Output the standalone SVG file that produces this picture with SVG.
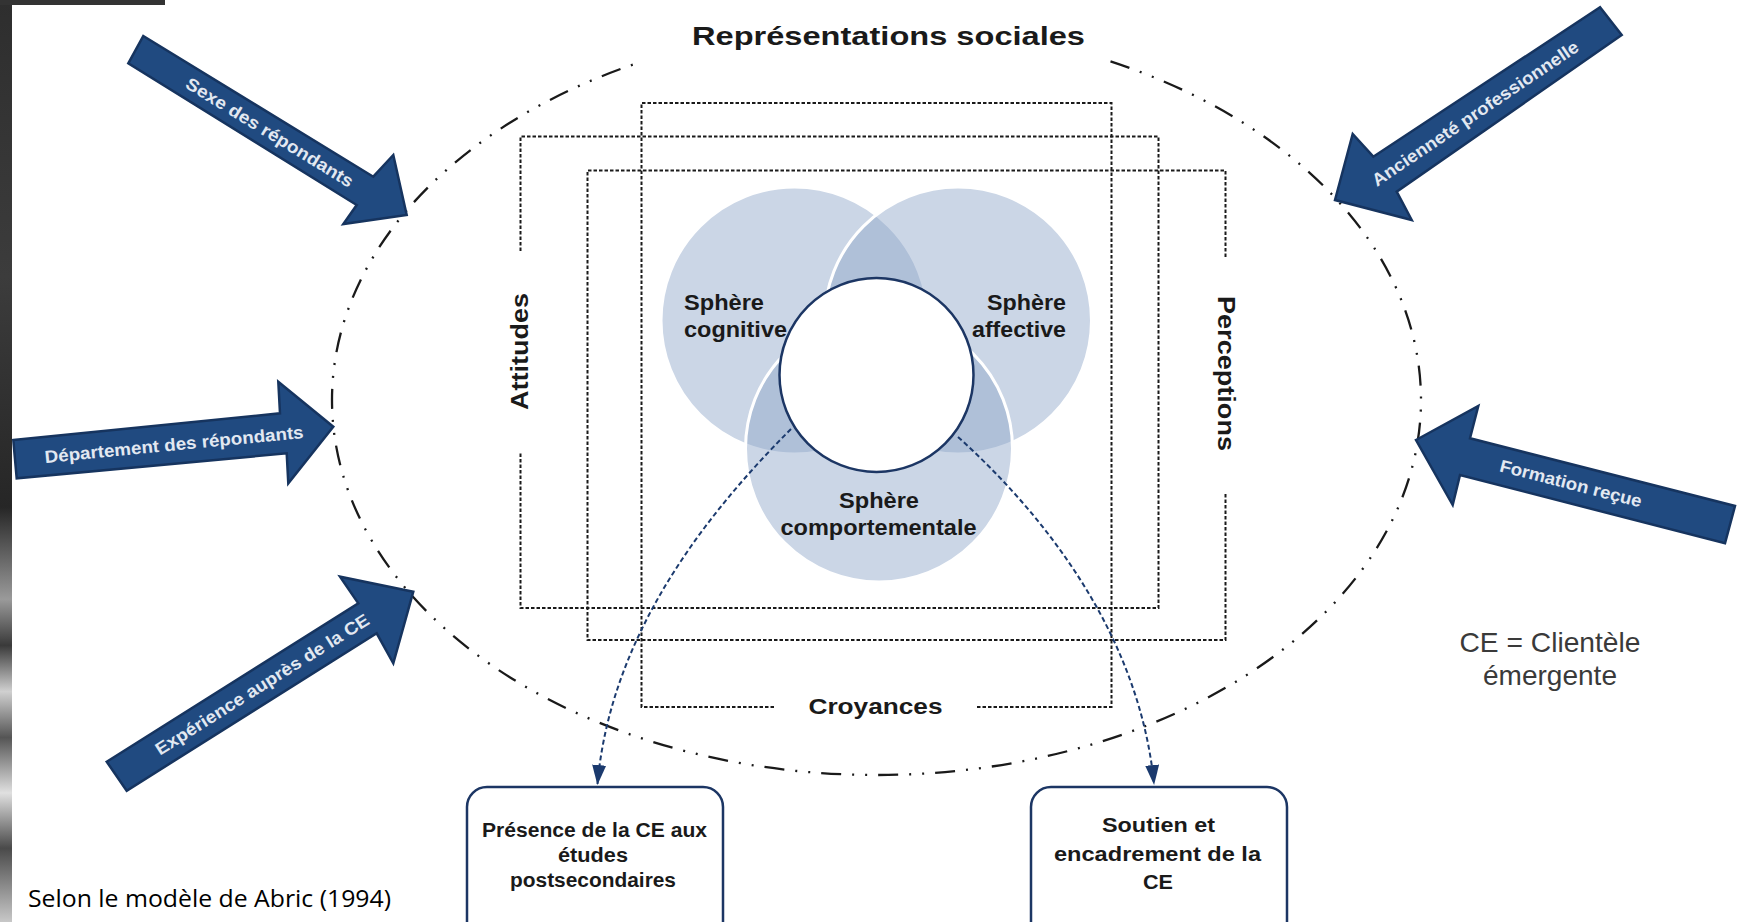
<svg xmlns="http://www.w3.org/2000/svg" width="1745" height="922" viewBox="0 0 1745 922">
<style>
.dot{fill:none;stroke:#1a1a1a;stroke-width:2;stroke-dasharray:3.5 2}
.ell{fill:none;stroke:#1a1a1a;stroke-width:2.3;stroke-dasharray:20 11 2 11 2 11}
.arr{fill:#204a80;stroke:#16345f;stroke-width:2.5;stroke-linejoin:miter}
.arrt{font-family:"Liberation Sans",Arial,sans-serif;font-weight:bold;font-size:17.5px;fill:#e2e8f1;text-anchor:middle}
.sph{fill:#8ea6c9;fill-opacity:0.46;stroke:#ffffff;stroke-width:3}
.lbl{font-family:"Liberation Sans",Arial,sans-serif;font-weight:bold;fill:#1a1a1a}
.box{fill:#ffffff;stroke:#1c3664;stroke-width:2.5}
.conn{fill:none;stroke:#1b3a6e;stroke-width:2;stroke-dasharray:5 3}
</style>
<defs>
<marker id="ah" viewBox="0 0 20 14" refX="19" refY="7" markerWidth="20" markerHeight="14" markerUnits="userSpaceOnUse" orient="auto">
<path d="M0,0 L20,7 L0,14 z" fill="#1b3a6e"/>
</marker>
<linearGradient id="strip" x1="0" y1="0" x2="0" y2="1">
<stop offset="0" stop-color="#2e2e2e"/>
<stop offset="0.3" stop-color="#3c3c3c"/>
<stop offset="0.55" stop-color="#262626"/>
<stop offset="0.65" stop-color="#9a9a9a"/>
<stop offset="0.7" stop-color="#3a3a3a"/>
<stop offset="0.75" stop-color="#d0d0d0"/>
<stop offset="0.8" stop-color="#555555"/>
<stop offset="0.86" stop-color="#e0e0e0"/>
<stop offset="0.92" stop-color="#4a4a4a"/>
<stop offset="1" stop-color="#c8c8c8"/>
</linearGradient>
</defs>
<rect x="0" y="0" width="1745" height="922" fill="#ffffff"/>
<rect x="0" y="0" width="12" height="922" fill="url(#strip)"/>
<rect x="0" y="0" width="165" height="5" fill="#333333"/>

<g id="title">
<text class="lbl" x="888.5" y="45" font-size="26" text-anchor="middle" textLength="393" lengthAdjust="spacingAndGlyphs">Représentations sociales</text>
</g>

<g id="ellipse-representations">
<path class="ell" d="M1110.5,61.4 A544.5,375 0 1 1 642.5,61.4"/>
</g>

<g id="frames">
<path id="croyances-frame" class="dot" d="M774,707 H641.5 V103 H1111.5 V707 H977"/>
<path id="attitudes-frame" class="dot" d="M520.5,251 V136.5 H1158.5 V608 H520.5 V453"/>
<path id="perceptions-frame" class="dot" d="M1225.5,257 V170.5 H587.5 V640 H1225.5 V493"/>
<text class="lbl" x="875.5" y="714" font-size="22" text-anchor="middle" textLength="134" lengthAdjust="spacingAndGlyphs">Croyances</text>
<text class="lbl" font-size="24" text-anchor="middle" transform="translate(519.5,351.5) rotate(-90)" y="8.5" textLength="117" lengthAdjust="spacingAndGlyphs">Attitudes</text>
<text class="lbl" font-size="24" text-anchor="middle" transform="translate(1226,373.5) rotate(90)" y="8.5" textLength="155" lengthAdjust="spacingAndGlyphs">Perceptions</text>
</g>

<g id="spheres">
<circle id="sphere-cognitive" class="sph" cx="794.5" cy="320.5" r="133.5"/>
<circle id="sphere-affective" class="sph" cx="958" cy="320.5" r="133.5"/>
<circle id="sphere-comportementale" class="sph" cx="879" cy="448.5" r="133.5"/>
<circle id="core" cx="876.5" cy="375" r="97" fill="#ffffff" stroke="#1c3664" stroke-width="2.5"/>
<text class="lbl" font-size="21.5" x="684" y="310" textLength="80" lengthAdjust="spacingAndGlyphs">Sphère</text>
<text class="lbl" font-size="21.5" x="684" y="337" textLength="103" lengthAdjust="spacingAndGlyphs">cognitive</text>
<text class="lbl" font-size="21.5" x="1066" y="310" text-anchor="end" textLength="79" lengthAdjust="spacingAndGlyphs">Sphère</text>
<text class="lbl" font-size="21.5" x="1066" y="337" text-anchor="end" textLength="94" lengthAdjust="spacingAndGlyphs">affective</text>
<text class="lbl" font-size="21.5" x="879" y="507.5" text-anchor="middle" textLength="80" lengthAdjust="spacingAndGlyphs">Sphère</text>
<text class="lbl" font-size="21.5" x="878.5" y="535" text-anchor="middle" textLength="196" lengthAdjust="spacingAndGlyphs">comportementale</text>
</g>

<g id="arrow-sexe">
<polygon class="arr" points="143.3,36 373.3,176.7 393.3,155 406.7,215 343.3,224 356.7,205 128.3,63.3"/>
<text class="arrt" transform="translate(270,132) rotate(31.5)" y="6.5" textLength="193" lengthAdjust="spacingAndGlyphs">Sexe des répondants</text>
</g>
<g id="arrow-departement">
<polygon class="arr" points="13.3,440 280,413.3 278.3,381.7 333.3,426.7 288.3,483.3 286.7,453.3 16.7,478.3"/>
<text class="arrt" transform="translate(174,444) rotate(-5.5)" y="6.5" textLength="260" lengthAdjust="spacingAndGlyphs">Département des répondants</text>
</g>
<g id="arrow-experience">
<polygon class="arr" points="106.7,761.7 358.3,603.3 340,576.7 413.3,591.7 393.3,663.3 376.7,633.3 126.7,790.7"/>
<text class="arrt" transform="translate(262,684) rotate(-32.2)" y="6.5" textLength="249" lengthAdjust="spacingAndGlyphs">Expérience auprès de la CE</text>
</g>
<g id="arrow-anciennete">
<polygon class="arr" points="1600,7.3 1373.3,156.7 1352.7,134 1335,200 1411.7,220 1396.7,191.7 1621.7,35"/>
<text class="arrt" transform="translate(1475,113) rotate(-34)" y="6.5" textLength="245" lengthAdjust="spacingAndGlyphs">Ancienneté professionnelle</text>
</g>
<g id="arrow-formation">
<polygon class="arr" points="1416,440 1478.3,406 1470,438.3 1735,506 1725,543.3 1460,475 1452.7,505"/>
<text class="arrt" transform="translate(1571,483) rotate(14.4)" y="6.5" textLength="146" lengthAdjust="spacingAndGlyphs">Formation reçue</text>
</g>

<g id="connectors">
<path class="conn" d="M791,429 C700,520 610,640 597.5,784" marker-end="url(#ah)"/>
<path class="conn" d="M958,437 C1050,520 1140,640 1154,784" marker-end="url(#ah)"/>
</g>

<g id="box-presence">
<rect class="box" x="467" y="787" width="256" height="160" rx="20"/>
<text class="lbl" font-size="19.5" x="594.5" y="836.5" text-anchor="middle" textLength="225" lengthAdjust="spacingAndGlyphs">Présence de la CE aux</text>
<text class="lbl" font-size="19.5" x="593" y="862" text-anchor="middle" textLength="70" lengthAdjust="spacingAndGlyphs">études</text>
<text class="lbl" font-size="19.5" x="593" y="887" text-anchor="middle" textLength="166" lengthAdjust="spacingAndGlyphs">postsecondaires</text>
</g>
<g id="box-soutien">
<rect class="box" x="1031" y="787" width="256" height="160" rx="20"/>
<text class="lbl" font-size="21" x="1158.5" y="832" text-anchor="middle" textLength="113" lengthAdjust="spacingAndGlyphs">Soutien et</text>
<text class="lbl" font-size="21" x="1157.5" y="860.5" text-anchor="middle" textLength="207" lengthAdjust="spacingAndGlyphs">encadrement de la</text>
<text class="lbl" font-size="21" x="1158" y="888.5" text-anchor="middle" textLength="30" lengthAdjust="spacingAndGlyphs">CE</text>
</g>

<g id="note-ce">
<text x="1550" y="652" font-family="Liberation Sans, Arial, sans-serif" font-size="28" fill="#3a3a3a" text-anchor="middle" textLength="181" lengthAdjust="spacingAndGlyphs">CE = Clientèle</text>
<text x="1550" y="684.5" font-family="Liberation Sans, Arial, sans-serif" font-size="28" fill="#3a3a3a" text-anchor="middle" textLength="134" lengthAdjust="spacingAndGlyphs">émergente</text>
</g>
<g id="source">
<text x="28" y="907" font-family="Open Sans, Liberation Sans, sans-serif" font-size="24" fill="#000000" textLength="363" lengthAdjust="spacingAndGlyphs">Selon le modèle de Abric (1994)</text>
</g>
</svg>
